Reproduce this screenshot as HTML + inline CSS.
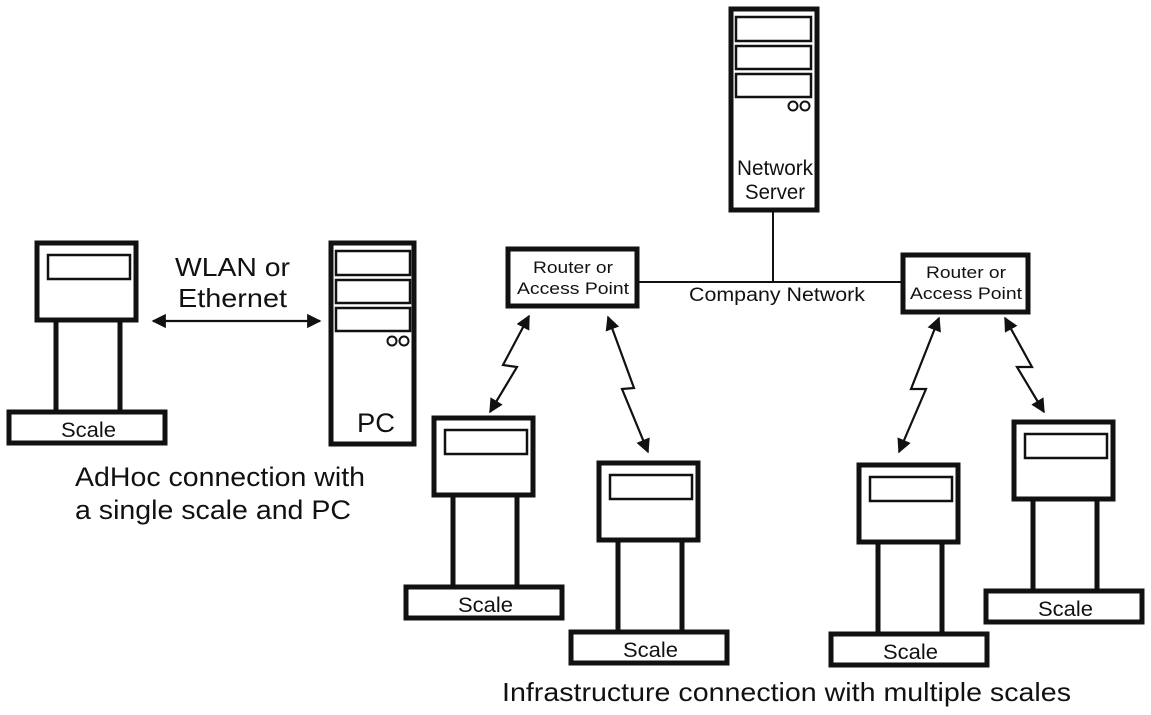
<!DOCTYPE html>
<html><head><meta charset="utf-8"><style>
html,body{margin:0;padding:0;background:#fff;}
svg{display:block;font-family:"Liberation Sans",Arial,sans-serif;}
</style></head><body>
<svg width="1151" height="715" viewBox="0 0 1151 715" xmlns="http://www.w3.org/2000/svg">
<defs>
<marker id="ah" viewBox="0 0 10 10" refX="9" refY="5" markerWidth="6.5" markerHeight="6.5" orient="auto-start-reverse" markerUnits="strokeWidth">
<path d="M0,0 L10,5 L0,10 z" fill="#111"/></marker>
<g id="scale">
<rect x="2" y="2" width="99" height="77" fill="#fff" stroke="#111" stroke-width="5"/>
<rect x="13" y="14" width="82" height="24" fill="#fff" stroke="#111" stroke-width="2.5"/>
<rect x="21" y="79" width="64" height="92" fill="#fff" stroke="#111" stroke-width="5"/>
<rect x="-26" y="171" width="156" height="31" fill="#fff" stroke="#111" stroke-width="5"/>
<text x="26" y="196" font-size="21" textLength="55" lengthAdjust="spacingAndGlyphs" fill="#111">Scale</text>
</g>
</defs>
<use href="#scale" x="35" y="241"/>
<use href="#scale" x="432" y="416"/>
<use href="#scale" x="597" y="461"/>
<use href="#scale" x="857" y="463"/>
<use href="#scale" x="1012" y="420"/>

<!-- PC -->
<rect x="331" y="243" width="83" height="201" fill="#fff" stroke="#111" stroke-width="5"/>
<rect x="336" y="251" width="74" height="24" fill="none" stroke="#111" stroke-width="2.5"/>
<rect x="336" y="280" width="74" height="23" fill="none" stroke="#111" stroke-width="2.5"/>
<rect x="336" y="308" width="74" height="23" fill="none" stroke="#111" stroke-width="2.5"/>
<circle cx="392" cy="341" r="4.5" fill="none" stroke="#111" stroke-width="2"/>
<circle cx="404" cy="341" r="4.5" fill="none" stroke="#111" stroke-width="2"/>
<text x="357" y="432" font-size="27" textLength="38" lengthAdjust="spacingAndGlyphs" fill="#111">PC</text>

<!-- Server -->
<rect x="731" y="9" width="86" height="201" fill="#fff" stroke="#111" stroke-width="5"/>
<rect x="736" y="17" width="75" height="24" fill="none" stroke="#111" stroke-width="2.5"/>
<rect x="736" y="46" width="75" height="23" fill="none" stroke="#111" stroke-width="2.5"/>
<rect x="736" y="74" width="75" height="23" fill="none" stroke="#111" stroke-width="2.5"/>
<circle cx="793" cy="106" r="4.5" fill="none" stroke="#111" stroke-width="2"/>
<circle cx="805" cy="106" r="4.5" fill="none" stroke="#111" stroke-width="2"/>
<text x="737" y="175" font-size="21" textLength="76" lengthAdjust="spacingAndGlyphs" fill="#111">Network</text>
<text x="745" y="199" font-size="21" textLength="60" lengthAdjust="spacingAndGlyphs" fill="#111">Server</text>

<!-- network lines -->
<line x1="637" y1="282" x2="903" y2="282" stroke="#111" stroke-width="2"/>
<line x1="773" y1="210" x2="773" y2="282" stroke="#111" stroke-width="2"/>
<text x="689" y="301" font-size="19" textLength="176" lengthAdjust="spacingAndGlyphs" fill="#111">Company Network</text>

<!-- routers -->
<rect x="508" y="249" width="129" height="57" fill="#fff" stroke="#111" stroke-width="5"/>
<text x="533" y="273" font-size="17" textLength="80" lengthAdjust="spacingAndGlyphs" fill="#111">Router or</text>
<text x="517" y="294" font-size="17" textLength="112" lengthAdjust="spacingAndGlyphs" fill="#111">Access Point</text>
<rect x="903" y="255" width="125" height="57" fill="#fff" stroke="#111" stroke-width="5"/>
<text x="926" y="278" font-size="17" textLength="80" lengthAdjust="spacingAndGlyphs" fill="#111">Router or</text>
<text x="910" y="299" font-size="17" textLength="112" lengthAdjust="spacingAndGlyphs" fill="#111">Access Point</text>

<!-- arrows -->
<g fill="none" stroke="#111" stroke-width="2.2">
<line x1="153" y1="321" x2="320" y2="321" marker-start="url(#ah)" marker-end="url(#ah)"/>
<polyline points="529,316 503,365 517,367 490,412" marker-start="url(#ah)" marker-end="url(#ah)"/>
<polyline points="608,317 634,388 622,389 648,452" marker-start="url(#ah)" marker-end="url(#ah)"/>
<polyline points="939,318 911,389 926,389 899,452" marker-start="url(#ah)" marker-end="url(#ah)"/>
<polyline points="1005,318 1032,367 1017,367 1044,412" marker-start="url(#ah)" marker-end="url(#ah)"/>
</g>

<!-- labels -->
<text x="175" y="276" font-size="26" textLength="115" lengthAdjust="spacingAndGlyphs" fill="#111">WLAN or</text>
<text x="178" y="307" font-size="26" textLength="109" lengthAdjust="spacingAndGlyphs" fill="#111">Ethernet</text>
<text x="75" y="486" font-size="27" textLength="290" lengthAdjust="spacingAndGlyphs" fill="#111">AdHoc connection with</text>
<text x="75" y="519" font-size="27" textLength="276" lengthAdjust="spacingAndGlyphs" fill="#111">a single scale and PC</text>
<text x="502" y="701" font-size="26" textLength="569" lengthAdjust="spacingAndGlyphs" fill="#111">Infrastructure connection with multiple scales</text>
</svg>
</body></html>
